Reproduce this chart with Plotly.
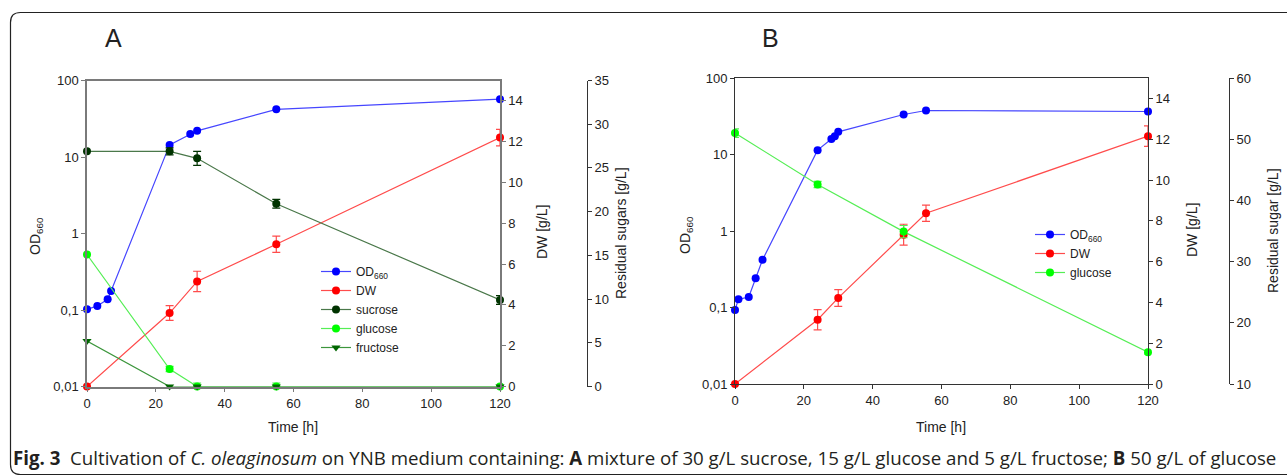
import plotly.graph_objects as go

W, H = 1287, 476
def X(px): return px / W
def Y(py): return 1 - py / H

# ---------------- Data: panel A ----------------
t_od_A = [0, 3, 6, 7, 24, 30, 32, 55, 120]
od_A = [0.102, 0.113, 0.138, 0.177, 14.4, 20.0, 22.0, 42.0, 57.0]

t_dw_A = [0, 24, 32, 55, 120]
dw_A = [0.0, 3.6, 5.15, 6.97, 12.2]
dw_err_A = [0.0, 0.36, 0.5, 0.4, 0.4]

t_sug_A = [0, 24, 32, 55, 120]
sucrose_A = [26.9, 26.9, 26.1, 20.9, 9.9]
sucrose_err_A = [0.0, 0.4, 0.8, 0.5, 0.5]
glucose_A = [15.1, 2.0, 0.0, 0.0, 0.0]
glucose_err_A = [0.0, 0.3, 0.4, 0.4, 0.0]
fructose_A = [5.2, 0.0, 0.0, 0.0, 0.0]

# ---------------- Data: panel B ----------------
t_od_B = [0, 1, 4, 6, 8, 24, 28, 29, 30, 49, 55.5, 120]
od_B = [0.093, 0.128, 0.137, 0.242, 0.42, 11.4, 16.0, 17.3, 19.8, 33.3, 37.6, 36.5]

t_dw_B = [0, 24, 30, 49, 55.5, 120]
dw_B = [0.0, 3.15, 4.22, 7.32, 8.37, 12.15]
dw_err_B = [0.0, 0.5, 0.41, 0.51, 0.4, 0.5]

t_glc_B = [0, 24, 49, 120]
glucose_B = [51.0, 42.6, 34.9, 15.2]
glucose_err_B = [0.7, 0.5, 1.0, 0.3]

# ---------------- Axis ticks ----------------
time_ticks = [0, 20, 40, 60, 80, 100, 120]
od_ticks = [0.01, 0.1, 1, 10, 100]
od_ticktext = ["0,01", "0,1", "1", "10", "100"]
dw_ticks = [0, 2, 4, 6, 8, 10, 12, 14]
sugA_ticks = [0, 5, 10, 15, 20, 25, 30, 35]
sugB_ticks = [10, 20, 30, 40, 50, 60]

FONT = "Liberation Sans"
TXT = "#222222"
BLUE, BLUE_L = "#0000ff", "#4646ff"
RED, RED_L = "#ff0000", "#ff4c4c"
SUC_M, SUC_L = "#003300", "#4a784a"
GLC_M, GLC_L = "#00ff00", "#55ee55"
FRU_M, FRU_L = "#006600", "#3c963c"

fig = go.Figure()

def sc(x, y, xa, ya, name, mc, lc, leg, sym="circle", err=None, ec=None):
    d = dict(x=x, y=y, xaxis=xa, yaxis=ya, name=name, mode="lines+markers",
             line=dict(color=lc, width=1.2),
             marker=dict(color=mc, size=8, symbol=sym),
             legend=leg, cliponaxis=False)
    if err is not None:
        d["error_y"] = dict(type="data", array=err, color=ec, thickness=1.2, width=4)
    return go.Scatter(**d)

# panel A
fig.add_trace(sc(t_od_A, od_A, "x", "y", "OD<sub>660</sub>", BLUE, BLUE_L, "legend"))
fig.add_trace(sc(t_dw_A, dw_A, "x", "y2", "DW", RED, RED_L, "legend", err=dw_err_A, ec=RED_L))
fig.add_trace(sc(t_sug_A, sucrose_A, "x", "y3", "sucrose", SUC_M, SUC_L, "legend", err=sucrose_err_A, ec=SUC_M))
fig.add_trace(sc(t_sug_A, glucose_A, "x", "y3", "glucose", GLC_M, GLC_L, "legend", err=glucose_err_A, ec=GLC_L))
fig.add_trace(sc(t_sug_A, fructose_A, "x", "y3", "fructose", FRU_M, FRU_L, "legend", sym="triangle-down"))
# panel B
fig.add_trace(sc(t_od_B, od_B, "x2", "y4", "OD<sub>660</sub>", BLUE, BLUE_L, "legend2"))
fig.add_trace(sc(t_dw_B, dw_B, "x2", "y5", "DW", RED, RED_L, "legend2", err=dw_err_B, ec=RED_L))
fig.add_trace(sc(t_glc_B, glucose_B, "x2", "y6", "glucose", GLC_M, GLC_L, "legend2", err=glucose_err_B, ec=GLC_L))

tickfont = dict(family=FONT, size=13, color=TXT)

def ax(**kw):
    base = dict(showgrid=False, zeroline=False, showline=True, ticks="outside",
                ticklen=4, tickfont=tickfont, automargin=False)
    base.update(kw)
    return base

A_LINE, B_LINE = "#7a7a7a", "#333333"
domA_x = [X(87), X(500)]
domA_y = [Y(386.5), Y(80.5)]
domB_x = [X(735), X(1148)]
domB_y = [Y(384), Y(78)]

fig.update_layout(
    width=W, height=H, autosize=False,
    margin=dict(l=0, r=0, t=0, b=0),
    paper_bgcolor="white", plot_bgcolor="rgba(0,0,0,0)",
    font=dict(family=FONT, color=TXT),
    xaxis=ax(domain=domA_x, range=[0, 120], anchor="y", tickvals=time_ticks,
             linecolor=A_LINE, linewidth=1.5, tickcolor=A_LINE, mirror=True),
    yaxis=ax(domain=domA_y, type="log", range=[-2, 2], anchor="x", tickvals=od_ticks,
             ticktext=od_ticktext, linecolor=A_LINE, linewidth=1.5, tickcolor=A_LINE),
    yaxis2=ax(overlaying="y", anchor="x", side="right", range=[0, 15], tickvals=dw_ticks,
              linecolor=A_LINE, linewidth=1.5, tickcolor=A_LINE),
    yaxis3=ax(overlaying="y", anchor="free", position=X(587), side="right", range=[0, 35],
              tickvals=sugA_ticks, linecolor="#333333", linewidth=1, tickcolor="#333333"),
    xaxis2=ax(domain=domB_x, range=[0, 120], anchor="y4", tickvals=time_ticks,
              linecolor=B_LINE, linewidth=1, tickcolor=B_LINE, mirror=True),
    yaxis4=ax(domain=domB_y, type="log", range=[-2, 2], anchor="x2", tickvals=od_ticks,
              ticktext=od_ticktext, linecolor=B_LINE, linewidth=1, tickcolor=B_LINE),
    yaxis5=ax(overlaying="y4", anchor="x2", side="right", range=[0, 15], tickvals=dw_ticks,
              linecolor=B_LINE, linewidth=1, tickcolor=B_LINE),
    yaxis6=ax(overlaying="y4", anchor="free", position=X(1229), side="right", range=[10, 60],
              tickvals=sugB_ticks, linecolor=B_LINE, linewidth=1, tickcolor=B_LINE),
    legend=dict(x=X(316), y=Y(257), xanchor="left", yanchor="top",
                bgcolor="rgba(0,0,0,0)", font=dict(family=FONT, size=12, color=TXT),
                itemwidth=30, tracegroupgap=0),
    legend2=dict(x=X(1030), y=Y(220), xanchor="left", yanchor="top",
                 bgcolor="rgba(0,0,0,0)", font=dict(family=FONT, size=12, color=TXT),
                 itemwidth=30, tracegroupgap=0),
    showlegend=True,
)

def ann(text, px, py, size=14, angle=0, family=FONT, xanchor="center"):
    fig.add_annotation(text=text, x=X(px), y=Y(py), xref="paper", yref="paper",
                       showarrow=False, textangle=angle, xanchor=xanchor, yanchor="middle",
                       font=dict(family=family, size=size, color=TXT))

# panel letters
ann("A", 113, 38, size=25)
ann("B", 770, 38, size=25)
# axis titles
ann("OD<sub>660</sub>", 36, 236, angle=-90)
ann("DW [g/L]", 542, 232, angle=-90)
ann("Residual sugars [g/L]", 621, 233, angle=-90)
ann("Time [h]", 293, 427)
ann("OD<sub>660</sub>", 686, 235, angle=-90)
ann("DW [g/L]", 1192, 230, angle=-90)
ann("Residual sugar [g/L]", 1273, 231, angle=-90)
ann("Time [h]", 941, 427)

# caption
fig.add_annotation(
    text="<b>Fig. 3</b>&nbsp;&nbsp;Cultivation of <i>C. oleaginosum</i> on YNB medium containing: "
         "<b>A</b> mixture of 30 g/L sucrose, 15 g/L glucose and 5 g/L fructose; <b>B</b> 50 g/L of glucose",
    x=X(11), y=Y(457), xref="paper", yref="paper", showarrow=False,
    xanchor="left", yanchor="middle", font=dict(family="Open Sans", size=18.7, color="#231f20"))

# rounded frame
r = 10
L, T, B, R = 10.5, 12.5, 474.5, 1300
path = (f"M {X(R)},{Y(T)} L {X(L + r)},{Y(T)} Q {X(L)},{Y(T)} {X(L)},{Y(T + r)} "
        f"L {X(L)},{Y(B - r)} Q {X(L)},{Y(B)} {X(L + r)},{Y(B)} L {X(R)},{Y(B)}")
fig.add_shape(type="path", path=path, xref="paper", yref="paper",
              line=dict(color="#222222", width=1.2))

fig.write_html("out.html")
